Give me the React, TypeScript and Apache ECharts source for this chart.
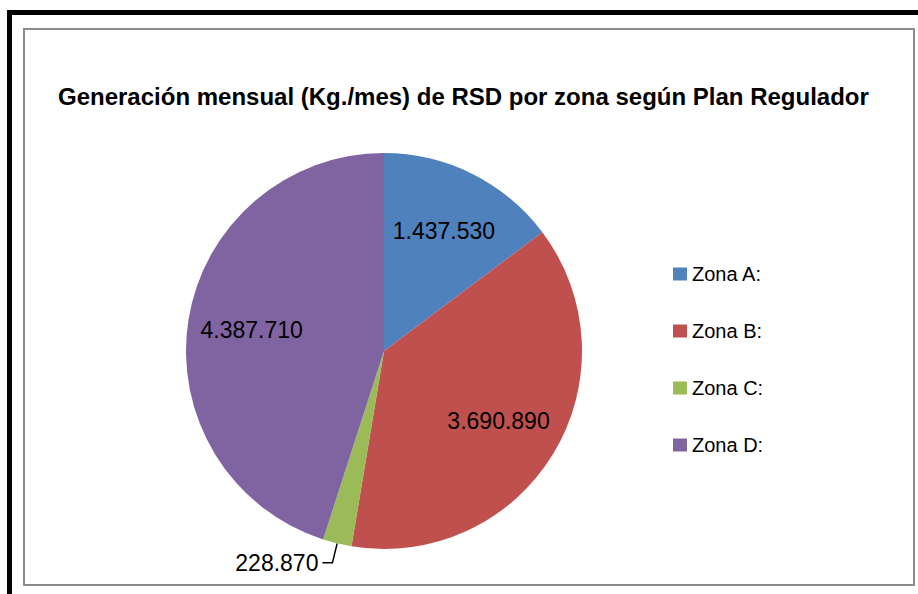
import React, { useEffect, useRef } from "react";
import * as echarts from "echarts";

const titleText = "Generación mensual (Kg./mes) de RSD por zona según Plan Regulador";
const categories = ["Zona A:", "Zona B:", "Zona C:", "Zona D:"];
const values = [1437530, 3690890, 228870, 4387710];
const colors = ["#4F81BD", "#C0504D", "#9BBB59", "#8064A2"];
const outsideLabelIndex = [2];

function fmt(v: number): string {
  const s = String(Math.round(v));
  let out = "";
  for (let i = 0; i < s.length; i++) {
    const fromEnd = s.length - i;
    out += s[i];
    if (fromEnd > 1 && (fromEnd - 1) % 3 === 0) out += ".";
  }
  return out;
}

const FONT = "'Liberation Sans', Arial, sans-serif";

export default function App() {
  const ref = useRef<HTMLDivElement>(null);
  useEffect(() => {
    if (!ref.current) return;
    const chart = echarts.init(ref.current, null, { renderer: "svg" });
    const center = [384, 351];
    const R = 198;
    const pieData = categories.map((name, i) => ({
      name,
      value: values[i],
      label: { show: outsideLabelIndex.includes(i) },
      labelLine: { show: outsideLabelIndex.includes(i) },
    }));
    const labelData = categories.map((name, i) => ({
      name,
      value: values[i],
      label: { show: !outsideLabelIndex.includes(i) },
    }));
    chart.setOption({
      animation: false,
      color: colors,
      title: {
        text: titleText,
        left: 58,
        top: 84,
        padding: 0,
        textStyle: {
          fontFamily: FONT,
          fontWeight: "bold",
          fontSize: 24,
          color: "#000",
        },
      },
      legend: {
        orient: "vertical",
        left: 673,
        top: 264,
        padding: 0,
        itemWidth: 14,
        itemHeight: 13,
        itemGap: 37,
        icon: "rect",
        data: categories,
        selectedMode: false,
        textStyle: {
          fontFamily: FONT,
          fontSize: 20,
          lineHeight: 20,
          color: "#000",
        },
      },
      graphic: [
        {
          type: "rect",
          shape: { x: 9.5, y: 12.5, width: 930, height: 600 },
          style: { fill: "#fff", stroke: "#000", lineWidth: 5 },
          z: -10,
          silent: true,
        },
        {
          type: "rect",
          shape: { x: 24, y: 29, width: 890, height: 556 },
          style: { fill: "#fff", stroke: "#8c8c8c", lineWidth: 2 },
          z: -9,
          silent: true,
        },
      ],
      series: [
        {
          type: "pie",
          center,
          radius: [0, R],
          startAngle: 90,
          clockwise: true,
          avoidLabelOverlap: false,
          silent: true,
          itemStyle: { borderWidth: 0 },
          label: {
            position: "outside",
            formatter: (p: any) => fmt(p.value),
            fontFamily: FONT,
            fontSize: 23,
            color: "#000",
            distanceToLabelLine: 4,
          },
          labelLine: {
            length: 20,
            length2: 10,
            smooth: false,
            lineStyle: { color: "#000", width: 1.5 },
          },
          data: pieData,
        },
        {
          type: "pie",
          center,
          radius: [64, R],
          startAngle: 90,
          clockwise: true,
          avoidLabelOverlap: false,
          silent: true,
          itemStyle: { color: "transparent", borderWidth: 0 },
          label: {
            position: "inside",
            formatter: (p: any) => fmt(p.value),
            fontFamily: FONT,
            fontSize: 23,
            color: "#000",
          },
          labelLine: { show: false },
          data: labelData,
        },
      ],
    });
    return () => chart.dispose();
  }, []);
  return (
    <div
      ref={ref}
      style={{ position: "fixed", left: 0, top: 0, width: 918, height: 594, background: "#fff" }}
    />
  );
}
